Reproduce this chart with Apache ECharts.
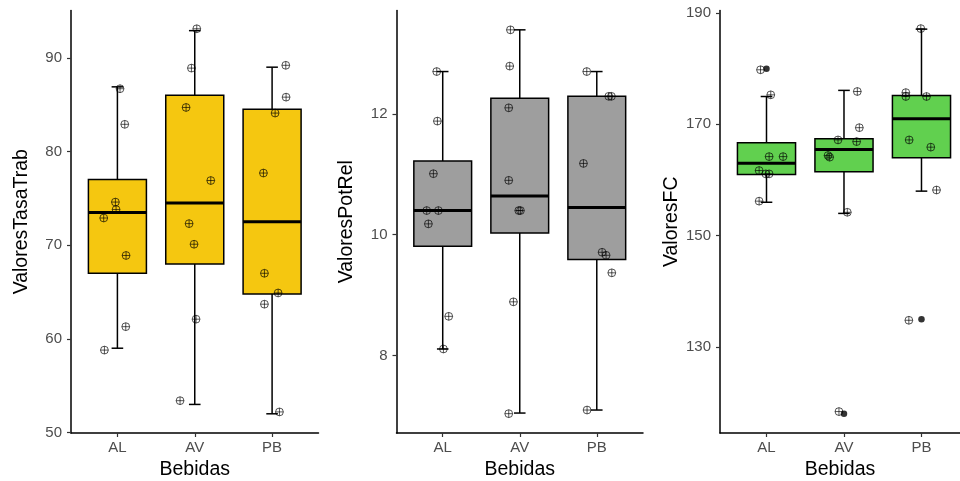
<!DOCTYPE html>
<html>
<head>
<meta charset="utf-8">
<script src="https://cdn.jsdelivr.net/npm/echarts@6/dist/echarts.min.js"></script>
<style>
  html, body { margin: 0; padding: 0; background: #ffffff; }
  #chart { width: 960px; height: 481px; }
</style>
</head>
<body>
<div id="chart"></div>
<script>
// Beverage groups on the x axis
const categories = ['AL', 'AV', 'PB'];

// ---- ValoresTasaTrab ----
const tasaLow  = [59.0, 53.0, 52.0];
const tasaQ1   = [67.0, 68.0, 64.8];
const tasaMed  = [73.5, 74.5, 72.5];
const tasaQ3   = [77.0, 86.0, 84.5];
const tasaHigh = [86.9, 92.9, 89.0];
const tasaAL = [86.7, 82.9, 74.6, 73.8, 72.9, 68.9, 61.3, 58.8];
const tasaAV = [93.1, 88.9, 84.7, 76.9, 72.3, 70.1, 62.1, 53.4];
const tasaPB = [89.2, 85.8, 84.1, 77.7, 67.0, 64.9, 63.7, 52.2];
const tasaJitAL = [0.034, 0.095, -0.026, -0.017, -0.177, 0.112, 0.108, -0.168];
const tasaJitAV = [0.026, -0.043, -0.112, 0.207, -0.073, -0.009, 0.017, -0.190];
const tasaJitPB = [0.177, 0.181, 0.039, -0.112, -0.099, 0.078, -0.099, 0.095];
const tasaTicks = [50, 60, 70, 80, 90];

// ---- ValoresPotRel ----
const potLow  = [8.11, 7.05, 7.10];
const potQ1   = [9.81, 10.03, 9.59];
const potMed  = [10.40, 10.64, 10.45];
const potQ3   = [11.22, 12.26, 12.29];
const potHigh = [12.70, 13.39, 12.70];
const potAL = [12.70, 11.88, 11.01, 10.40, 10.40, 10.18, 8.65, 8.11];
const potAV = [13.39, 12.79, 12.10, 10.90, 10.40, 10.40, 8.89, 7.04];
const potPB = [12.70, 12.29, 12.29, 11.18, 9.71, 9.66, 9.37, 7.10];
const potJitAL = [-0.078, -0.069, -0.121, -0.208, -0.056, -0.186, 0.078, 0.009];
const potJitAV = [-0.121, -0.130, -0.143, -0.143, -0.013, 0.009, -0.082, -0.143];
const potJitPB = [-0.130, 0.156, 0.190, -0.173, 0.069, 0.121, 0.195, -0.126];
const potTicks = [8, 10, 12];

// ---- ValoresFC ----
const fcLow  = [156.0, 154.0, 158.0];
const fcQ1   = [161.0, 161.5, 164.0];
const fcMed  = [163.0, 165.5, 171.0];
const fcQ3   = [166.7, 167.4, 175.2];
const fcHigh = [175.0, 176.1, 187.1];
const fcOutliers = [180.0, 118.0, 135.0];
const fcAL = [179.8, 175.3, 164.2, 164.2, 161.7, 161.1, 161.1, 156.2];
const fcAV = [175.9, 169.4, 167.2, 166.9, 164.4, 164.1, 154.2, 118.4];
const fcPB = [187.2, 175.7, 175.0, 175.0, 167.2, 165.9, 158.2, 134.8];
const fcJitAL = [-0.077, 0.055, 0.034, 0.214, -0.095, -0.009, 0.034, -0.095];
const fcJitAV = [0.172, 0.198, -0.077, 0.163, -0.206, -0.185, 0.043, -0.065];
const fcJitPB = [-0.009, -0.202, -0.202, 0.065, -0.159, 0.120, 0.194, -0.163];
const fcTicks = [130, 150, 170, 190];

const BOX_W = 0.75;   // box width in category units
const CAP_W = 0.15;   // whisker cap width in category units
const FONT = '"Liberation Sans", Arial, sans-serif';

function boxRows(low, q1, med, q3, high) {
  return categories.map((c, i) => [i + 1, low[i], q1[i], med[i], q3[i], high[i]]);
}
function pointRows(groups, jitters) {
  const rows = [];
  groups.forEach((vals, g) => vals.forEach((v, k) => rows.push([g + 1 + jitters[g][k], v])));
  return rows;
}

function renderBox(fill) {
  return function (params, api) {
    const x = api.value(0);
    const lo = api.value(1), q1 = api.value(2), md = api.value(3), q3 = api.value(4), hi = api.value(5);
    const pLo = api.coord([x, lo]);
    const pHi = api.coord([x, hi]);
    const cL = api.coord([x - CAP_W / 2, lo])[0];
    const cR = api.coord([x + CAP_W / 2, lo])[0];
    const tl = api.coord([x - BOX_W / 2, q3]);
    const br = api.coord([x + BOX_W / 2, q1]);
    const ml = api.coord([x - BOX_W / 2, md]);
    const mr = api.coord([x + BOX_W / 2, md]);
    const ls = { stroke: '#000', lineWidth: 1.5 };
    return {
      type: 'group',
      children: [
        { type: 'line', shape: { x1: pLo[0], y1: pLo[1], x2: pHi[0], y2: pHi[1] }, style: ls },
        { type: 'line', shape: { x1: cL, y1: pLo[1], x2: cR, y2: pLo[1] }, style: ls },
        { type: 'line', shape: { x1: cL, y1: pHi[1], x2: cR, y2: pHi[1] }, style: ls },
        { type: 'rect', shape: { x: tl[0], y: tl[1], width: br[0] - tl[0], height: br[1] - tl[1] },
          style: { fill: fill, stroke: '#000', lineWidth: 1.5 } },
        { type: 'line', shape: { x1: ml[0], y1: ml[1], x2: mr[0], y2: mr[1] }, style: { stroke: '#000', lineWidth: 3 } }
      ]
    };
  };
}

function renderPoint(params, api) {
  const p = api.coord([api.value(0), api.value(1)]);
  const r = 3.9;
  const st = { stroke: 'rgba(0,0,0,0.66)', lineWidth: 1, fill: null };
  return {
    type: 'group',
    children: [
      { type: 'circle', shape: { cx: p[0], cy: p[1], r: r }, style: st },
      { type: 'line', shape: { x1: p[0] - r, y1: p[1], x2: p[0] + r, y2: p[1] }, style: st },
      { type: 'line', shape: { x1: p[0], y1: p[1] - r, x2: p[0], y2: p[1] + r }, style: st }
    ]
  };
}

// The third panel runs off the right edge of the page, so its visible
// x range is shortened to keep the same spacing between groups.
const panels = [
  { name: 'ValoresTasaTrab', left: 71,    width: 247.5, xMax: 3.6,   min: 49.95, max: 95.05, ticks: tasaTicks,
    nameGap: 39.5, fill: '#F5C710',
    box: boxRows(tasaLow, tasaQ1, tasaMed, tasaQ3, tasaHigh),
    pts: pointRows([tasaAL, tasaAV, tasaPB], [tasaJitAL, tasaJitAV, tasaJitPB]), out: [] },
  { name: 'ValoresPotRel',   left: 396.5, width: 246.5, xMax: 3.6,   min: 6.72, max: 13.71, ticks: potTicks,
    nameGap: 40, fill: '#9E9E9E',
    box: boxRows(potLow, potQ1, potMed, potQ3, potHigh),
    pts: pointRows([potAL, potAV, potPB], [potJitAL, potJitAV, potJitPB]), out: [] },
  { name: 'ValoresFC',       left: 720,   width: 240,   xMax: 3.497, min: 114.55, max: 190.45, ticks: fcTicks,
    nameGap: 38.7, fill: '#61D04F',
    box: boxRows(fcLow, fcQ1, fcMed, fcQ3, fcHigh),
    pts: pointRows([fcAL, fcAV, fcPB], [fcJitAL, fcJitAV, fcJitPB]),
    out: fcOutliers.map((v, i) => [i + 1, v]) }
];

const grid = [], xAxis = [], yAxis = [], series = [];
panels.forEach((p, i) => {
  grid.push({ left: p.left, top: 10.5, width: p.width, height: 422.5,
    containLabel: false, outerBoundsMode: 'none' });
  xAxis.push({
    type: 'value', gridIndex: i, min: 0.4, max: p.xMax,
    name: 'Bebidas', nameLocation: 'middle', nameGap: 26.5, nameMoveOverlap: false,
    nameTextStyle: { color: '#000', fontSize: 19.5, fontFamily: FONT },
    axisLine: { show: true, lineStyle: { color: '#000', width: 1.5 } },
    axisTick: { show: true, customValues: [1, 2, 3], length: 4, lineStyle: { color: '#333', width: 1.2 } },
    axisLabel: { customValues: [1, 2, 3], formatter: v => categories[Math.round(v) - 1],
      color: '#4D4D4D', fontSize: 15, margin: 7, fontFamily: FONT },
    splitLine: { show: false }
  });
  yAxis.push({
    type: 'value', gridIndex: i, min: p.min, max: p.max,
    name: p.name, nameLocation: 'middle', nameGap: p.nameGap, nameMoveOverlap: false,
    nameTextStyle: { color: '#000', fontSize: 19.5, fontFamily: FONT },
    axisLine: { show: true, lineStyle: { color: '#000', width: 1.5 } },
    axisTick: { show: true, customValues: p.ticks, length: 4, lineStyle: { color: '#333', width: 1.2 } },
    axisLabel: { customValues: p.ticks, color: '#4D4D4D', fontSize: 15, margin: 9, fontFamily: FONT,
      padding: [3, 0, 0, 0] },
    splitLine: { show: false }
  });
  series.push({
    type: 'custom', xAxisIndex: i, yAxisIndex: i, clip: false, z: 2,
    renderItem: renderBox(p.fill),
    encode: { x: 0, y: [1, 2, 3, 4, 5] },
    data: p.box
  });
  if (p.out.length) {
    series.push({
      type: 'scatter', xAxisIndex: i, yAxisIndex: i, z: 3,
      symbol: 'circle', symbolSize: 6.5,
      itemStyle: { color: '#000' },
      data: p.out
    });
  }
  series.push({
    type: 'custom', xAxisIndex: i, yAxisIndex: i, clip: false, z: 4,
    renderItem: renderPoint,
    encode: { x: 0, y: 1 },
    data: p.pts
  });
});

const chart = echarts.init(document.getElementById('chart'), null, { renderer: 'canvas' });
chart.setOption({
  animation: false,
  backgroundColor: '#ffffff',
  textStyle: { fontFamily: FONT },
  grid, xAxis, yAxis, series
});
</script>
</body>
</html>
